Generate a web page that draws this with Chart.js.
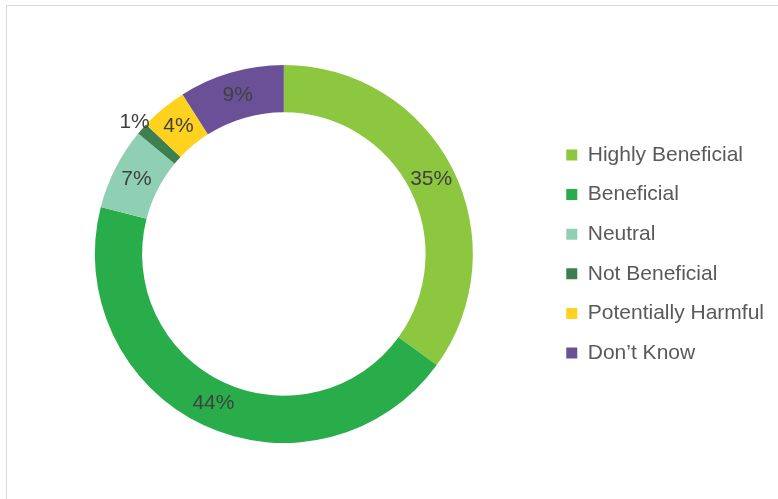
<!DOCTYPE html>
<html>
<head>
<meta charset="utf-8">
<script src="https://cdn.jsdelivr.net/npm/chart.js@4/dist/chart.umd.min.js"></script>
<style>
  html, body { margin: 0; padding: 0; background: #ffffff; overflow: hidden; }
  #frame { position: absolute; left: 6px; top: 5px; width: 800px; height: 520px;
           border-left: 1.5px solid #d9d9d9; border-top: 1.5px solid #d9d9d9; }
  #wrap { position: absolute; left: 0; top: 0; width: 778px; height: 499px; }
</style>
</head>
<body>
<div id="frame"></div>
<div id="wrap"><canvas id="c" width="778" height="499"></canvas></div>
<script>
const categories = ["Highly Beneficial", "Beneficial", "Neutral", "Not Beneficial", "Potentially Harmful", "Don\u2019t Know"];
const values = [35, 44, 7, 1, 4, 9];
const colors = ["#8DC63F", "#28AD4A", "#8FD0B5", "#3E7F50", "#FFD21F", "#6A5096"];

const labelPlugin = {
  id: 'sliceLabels',
  afterDatasetsDraw(chart) {
    const ctx = chart.ctx;
    const meta = chart.getDatasetMeta(0);
    ctx.save();
    ctx.font = '21px "Liberation Sans", Arial, sans-serif';
    ctx.fillStyle = '#404040';
    ctx.textAlign = 'center';
    ctx.textBaseline = 'middle';
    meta.data.forEach((arc, i) => {
      const p = arc.getProps(['x', 'y', 'startAngle', 'endAngle', 'innerRadius', 'outerRadius'], true);
      const mid = (p.startAngle + p.endAngle) / 2;
      const r = values[i] < 2 ? p.outerRadius + 10 : (p.innerRadius + p.outerRadius) / 2;
      ctx.fillText(values[i] + '%', p.x + Math.cos(mid) * r, p.y + Math.sin(mid) * r);
    });
    ctx.restore();
  }
};

new Chart(document.getElementById('c'), {
  type: 'doughnut',
  data: {
    labels: categories,
    datasets: [{
      data: values,
      backgroundColor: colors,
      borderWidth: 0,
      hoverOffset: 0,
      offset: 0
    }]
  },
  options: {
    responsive: false,
    animation: false,
    cutout: '75%',
    layout: { padding: { left: 20, right: 4, top: 65, bottom: 56 } },
    plugins: {
      tooltip: { enabled: false },
      legend: {
        position: 'right',
        align: 'center',
        labels: {
          boxWidth: 11,
          boxHeight: 11,
          padding: 18.6,
          color: '#595959',
          font: { size: 21, family: '"Liberation Sans", Arial, sans-serif' }
        }
      }
    }
  },
  plugins: [labelPlugin]
});
</script>
</body>
</html>
